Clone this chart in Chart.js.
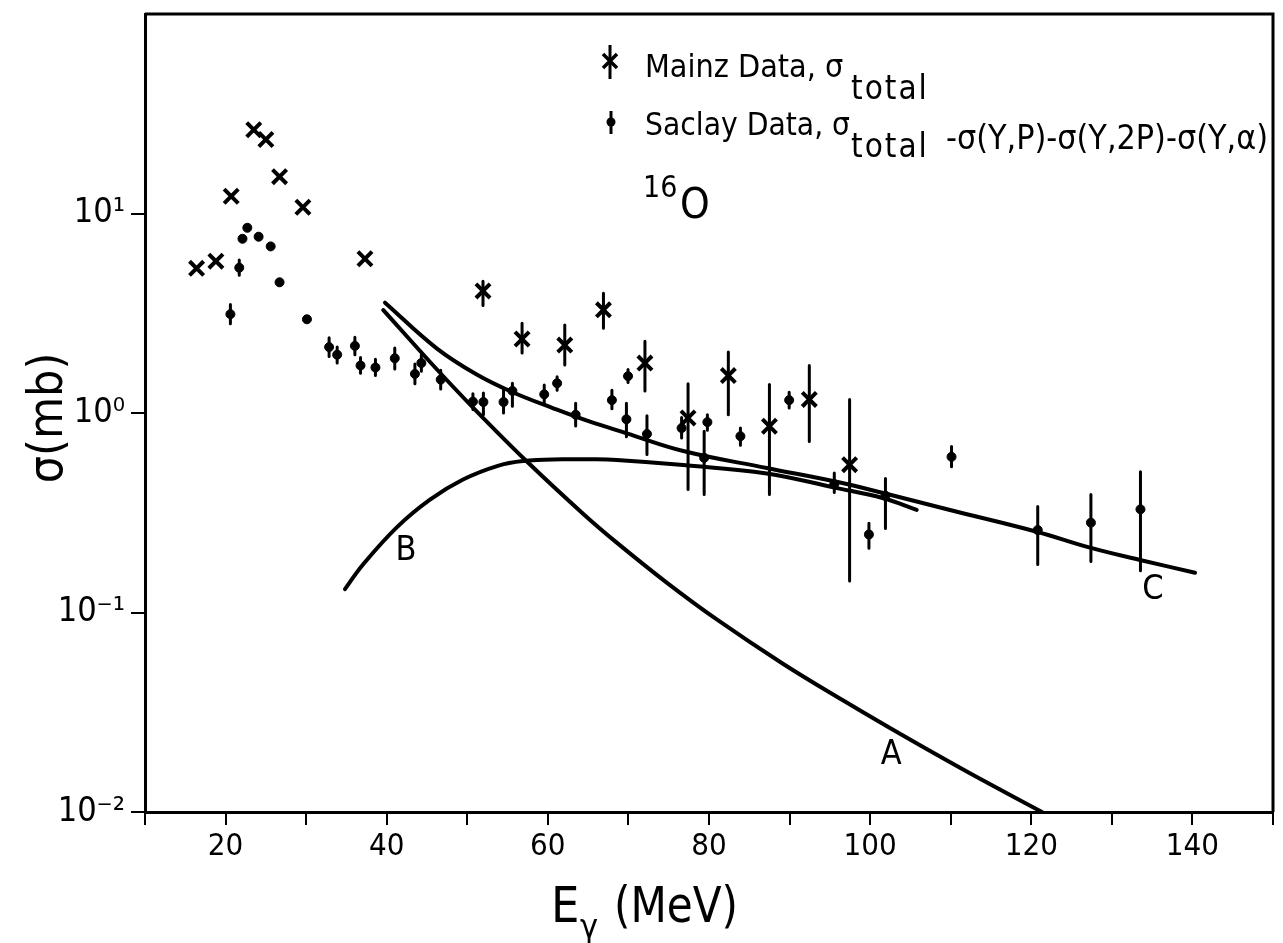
<!DOCTYPE html>
<html><head><meta charset="utf-8">
<script src="https://cdn.jsdelivr.net/npm/chart.js@4.4.1/dist/chart.umd.min.js"></script>
<style>html,body{margin:0;padding:0;background:#fff;}canvas{display:block}</style>
</head><body>
<canvas id="c" width="1283" height="943"></canvas>
<script>
// ---------- data ----------
const mainzE      = [16.4, 18.8, 20.7, 23.5, 25.0, 26.7, 29.6, 37.3, 51.95, 56.8, 62.1, 66.9, 72.05, 77.4, 82.4, 87.5, 92.45, 97.45];
const mainzSigma  = [5.31, 5.77, 12.2, 26.3, 23.5, 15.3, 10.75, 5.93, 4.09, 2.35, 2.19, 3.29, 1.78, 0.944, 1.54, 0.858, 1.17, 0.551];
const mainzErrLo  = [null, null, null, null, null, null, null, null, 3.46, 2.00, 1.74, 2.66, 1.29, 0.414, 0.98, 0.39, 0.72, 0.144];
const mainzErrHi  = [null, null, null, null, null, null, null, null, 4.58, 2.82, 2.76, 3.98, 2.29, 1.40, 2.02, 1.39, 1.73, 1.17];

const saclayE     = [20.6, 21.7, 22.1, 22.7, 24.1, 25.6, 26.7, 30.1, 32.85, 33.85, 36.05, 36.75, 38.6, 41.0, 43.5, 44.3, 46.7, 50.7, 52.0, 54.5, 55.6, 59.55, 61.15, 63.45, 67.95, 69.75, 69.95, 72.3, 76.6, 79.4, 79.8, 83.9, 89.95, 95.55, 99.85, 101.9, 110.1, 120.8, 127.4, 133.55];
const saclaySigma = [3.13, 5.35, 7.47, 8.48, 7.65, 6.84, 4.52, 2.95, 2.14, 1.96, 2.17, 1.73, 1.69, 1.88, 1.57, 1.78, 1.47, 1.14, 1.135, 1.135, 1.29, 1.24, 1.41, 0.98, 1.16, 0.93, 1.53, 0.785, 0.84, 0.596, 0.90, 0.765, 1.16, 0.44, 0.246, 0.385, 0.603, 0.259, 0.282, 0.329];
const saclayErrLo = [2.80, 4.90, null, null, null, null, null, null, 1.92, 1.78, 1.96, 1.58, 1.54, 1.66, 1.40, 1.62, 1.32, 1.04, 0.98, 1.00, 1.08, 1.10, 1.30, 0.86, 1.05, 0.76, 1.42, 0.62, 0.75, 0.39, 0.82, 0.69, 1.06, 0.40, 0.21, 0.264, 0.537, 0.174, 0.18, 0.162];
const saclayErrHi = [3.50, 5.85, null, null, null, null, null, null, 2.38, 2.14, 2.40, 1.90, 1.86, 2.12, 1.76, 1.96, 1.64, 1.25, 1.26, 1.33, 1.41, 1.38, 1.52, 1.12, 1.30, 1.12, 1.65, 0.97, 0.95, 0.81, 0.98, 0.84, 1.27, 0.50, 0.28, 0.47, 0.68, 0.34, 0.39, 0.507];

const curveAE     = [39.58, 45.78, 50.75, 57.37, 64.4, 68.55, 74.75, 80.96, 89.22, 96.67, 103.7, 111.99, 121.33];
const curveASigma = [3.28, 1.73, 1.061, 0.573, 0.312, 0.224, 0.1412, 0.0923, 0.0552, 0.0362, 0.02466, 0.01596, 0.01];
const curveBE     = [34.82, 37.06, 41.28, 45.37, 49.47, 53.69, 56.92, 61.88, 65.23, 68.55, 76.8, 87.16, 95.43, 101.63, 105.78];
const curveBSigma = [0.131, 0.174, 0.268, 0.368, 0.464, 0.542, 0.574, 0.586, 0.586, 0.581, 0.548, 0.498, 0.424, 0.374, 0.327];
const curveCE     = [39.79, 46.2, 51.17, 55.71, 60.68, 65.23, 69.79, 76.81, 87.16, 96.26, 101.63, 109.91, 120.67, 127.29, 133.5, 140.32];
const curveCSigma = [3.572, 2.110, 1.560, 1.267, 1.056, 0.9045, 0.791, 0.645, 0.530, 0.448, 0.397, 0.3265, 0.2541, 0.2113, 0.1833, 0.1583];

const curveLabels  = ['A', 'B', 'C'];
const curveLabelE  = [102.6, 42.4, 135.1];
const curveLabelS  = [0.0193, 0.204, 0.129];

const xTickLabelValues = [20, 40, 60, 80, 100, 120, 140];
const yTickValues = [0.01, 0.1, 1, 10];
const yTickLabels = ['10\u207B\u00B2', '10\u207B\u00B9', '10\u2070', '10\u00B9'];

const legendMainz  = 'Mainz Data, \u03C3';
const legendSaclay = 'Saclay Data, \u03C3';
const legendSub    = 'total';
const legendSuffix = '-\u03C3(Y,P)-\u03C3(Y,2P)-\u03C3(Y,\u03B1)';
// ---------------------------------------------------

const FONT = "'Liberation Sans Narrow','DejaVu Sans Condensed','DejaVu Sans',sans-serif";

function pts(xs, ys) { return xs.map((x, i) => ({x: x, y: ys[i]})); }
function errBars(xs, lo, hi) {
  const d = [];
  xs.forEach((x, i) => {
    if (lo[i] == null) return;
    d.push({x: x, y: lo[i]}, {x: x, y: hi[i]}, {x: x, y: null});
  });
  return d;
}

const lineDs = (data) => ({
  data, showLine: true, pointRadius: 0, borderColor: '#000', borderWidth: 4,
  tension: 0.4, fill: false, spanGaps: false
});

const decor = {
  id: 'decor',
  afterDraw(chart) {
    const ctx = chart.ctx;
    const {left, right, top, bottom} = chart.chartArea;
    const xs = chart.scales.x, ys = chart.scales.y;
    ctx.save();
    ctx.strokeStyle = '#000'; ctx.fillStyle = '#000';
    ctx.lineWidth = 3;
    ctx.beginPath(); ctx.moveTo(left, top); ctx.lineTo(right, top); ctx.lineTo(right, bottom); ctx.stroke();

    // legend markers
    ctx.lineWidth = 3;
    ctx.beginPath(); ctx.moveTo(610, 45); ctx.lineTo(610, 79); ctx.stroke();
    ctx.lineWidth = 3.5;
    ctx.beginPath(); ctx.moveTo(603, 54); ctx.lineTo(617, 68); ctx.moveTo(617, 54); ctx.lineTo(603, 68); ctx.stroke();
    ctx.lineWidth = 3;
    ctx.beginPath(); ctx.moveTo(611, 111); ctx.lineTo(611, 134); ctx.stroke();
    ctx.beginPath(); ctx.arc(611, 122, 4.5, 0, Math.PI * 2); ctx.fill();

    // legend texts
    ctx.textAlign = 'left'; ctx.textBaseline = 'alphabetic';
    ctx.font = '32px ' + FONT;
    ctx.fillText(legendMainz, 645, 77, 205);
    ctx.fillText(legendSaclay, 645, 135, 205);
    ctx.font = '33px ' + FONT;
    try { ctx.letterSpacing = '2px'; } catch (e) {}
    ctx.fillText(legendSub, 851, 99, 100);
    ctx.fillText(legendSub, 851, 157, 100);
    try { ctx.letterSpacing = '0px'; } catch (e) {}
    ctx.font = '34px ' + FONT;
    ctx.fillText(legendSuffix, 946, 149, 322);

    // 16O
    ctx.font = '30px ' + FONT;
    ctx.fillText('16', 643, 197);
    ctx.font = '42px ' + FONT;
    ctx.fillText('O', 680, 218);

    // curve labels
    ctx.font = '34px ' + FONT;
    ctx.textAlign = 'center'; ctx.textBaseline = 'middle';
    curveLabels.forEach((t, i) => {
      ctx.fillText(t, xs.getPixelForValue(curveLabelE[i]), ys.getPixelForValue(curveLabelS[i]));
    });

    // axis titles
    ctx.save();
    ctx.translate(50, 418); ctx.rotate(-Math.PI / 2);
    ctx.font = '48px ' + FONT; ctx.textAlign = 'center'; ctx.textBaseline = 'middle';
    ctx.fillText('\u03C3(mb)', 0, 0);
    ctx.restore();
    ctx.textAlign = 'left'; ctx.textBaseline = 'alphabetic';
    ctx.font = '50px ' + FONT;
    ctx.fillText('E', 551, 922);
    ctx.font = '34px ' + FONT;
    ctx.fillText('\u03B3', 580, 938);
    ctx.font = '50px ' + FONT;
    ctx.fillText('(MeV)', 614, 922, 124);
    ctx.restore();
  }
};

new Chart(document.getElementById('c'), {
  type: 'scatter',
  data: {
    datasets: [
      Object.assign(lineDs(pts(curveAE, curveASigma)), {label: 'A'}),
      Object.assign(lineDs(pts(curveBE, curveBSigma)), {label: 'B'}),
      Object.assign(lineDs(pts(curveCE, curveCSigma)), {label: 'C'}),
      Object.assign(lineDs(errBars(mainzE, mainzErrLo, mainzErrHi)), {label: 'Mainz errors', borderWidth: 3, tension: 0}),
      Object.assign(lineDs(errBars(saclayE, saclayErrLo, saclayErrHi)), {label: 'Saclay errors', borderWidth: 3, tension: 0}),
      {label: 'Mainz Data', data: pts(mainzE, mainzSigma), pointStyle: 'crossRot', pointRadius: 10, borderColor: '#000', borderWidth: 4, backgroundColor: '#000'},
      {label: 'Saclay Data', data: pts(saclayE, saclaySigma), pointStyle: 'circle', pointRadius: 4.5, borderColor: '#000', borderWidth: 1, backgroundColor: '#000'}
    ]
  },
  options: {
    responsive: false, animation: false, devicePixelRatio: 1,
    layout: {padding: {top: 14, right: 10, left: 0, bottom: 0}, autoPadding: false},
    plugins: {legend: {display: false}, tooltip: {enabled: false}},
    elements: {line: {borderCapStyle: 'round'}},
    scales: {
      x: {
        type: 'linear', min: 10, max: 150,
        afterFit: s => { s.height = 131; s.paddingLeft = 0; s.paddingRight = 0; },
        ticks: {
          stepSize: 10, autoSkip: false, maxRotation: 0, color: '#000', padding: 3,
          font: {family: FONT, size: 31},
          callback: v => xTickLabelValues.includes(v) ? String(v) : ''
        },
        grid: {drawOnChartArea: false, drawTicks: true, tickLength: 13, color: '#000', lineWidth: 2},
        border: {display: true, color: '#000', width: 3}
      },
      y: {
        type: 'logarithmic', min: 0.01, max: 100,
        afterFit: s => { s.width = 145; s.paddingTop = 0; s.paddingBottom = 0; },
        afterBuildTicks: axis => { axis.ticks = yTickValues.map(v => ({value: v})); },
        ticks: {
          color: '#000', padding: 6, font: {family: FONT, size: 34},
          callback: v => { const i = yTickValues.indexOf(v); return i >= 0 ? yTickLabels[i] : ''; }
        },
        grid: {drawOnChartArea: false, drawTicks: true, tickLength: 14, color: '#000', lineWidth: 2},
        border: {display: true, color: '#000', width: 3}
      }
    }
  },
  plugins: [decor]
});
</script>
</body></html>
